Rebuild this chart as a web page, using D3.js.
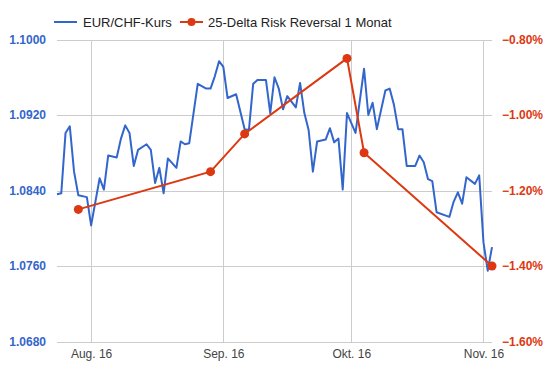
<!DOCTYPE html>
<html>
<head>
<meta charset="utf-8">
<script src="https://d3js.org/d3.v7.min.js"></script>
<style>
  body { margin: 0; background: #fff; }
  svg { font-family: Arial, "Liberation Sans", sans-serif; }
</style>
</head>
<body>
<svg id="chart" width="548" height="371"></svg>
<script>
// EUR/CHF daily rate (vertices)
var rateDates = ["2016-07-24","2016-07-25","2016-07-26","2016-07-27","2016-07-28","2016-07-29","2016-07-31",
  "2016-08-01","2016-08-03","2016-08-04","2016-08-05","2016-08-07","2016-08-08","2016-08-09","2016-08-10",
  "2016-08-11","2016-08-12","2016-08-14","2016-08-15","2016-08-16","2016-08-17","2016-08-18","2016-08-19",
  "2016-08-21","2016-08-22","2016-08-23","2016-08-24","2016-08-26","2016-08-28","2016-08-29","2016-08-30",
  "2016-08-31","2016-09-01","2016-09-02","2016-09-04","2016-09-06","2016-09-07","2016-09-08","2016-09-09",
  "2016-09-11","2016-09-12","2016-09-13","2016-09-14","2016-09-15","2016-09-16","2016-09-18","2016-09-19",
  "2016-09-20","2016-09-21","2016-09-22","2016-09-23","2016-09-25","2016-09-26","2016-09-27","2016-09-28",
  "2016-09-29","2016-09-30","2016-10-02","2016-10-04","2016-10-05","2016-10-06","2016-10-07","2016-10-09",
  "2016-10-10","2016-10-11","2016-10-12","2016-10-13","2016-10-14","2016-10-16","2016-10-17","2016-10-18",
  "2016-10-19","2016-10-20","2016-10-21","2016-10-24","2016-10-25","2016-10-26","2016-10-27","2016-10-28",
  "2016-10-30","2016-10-31","2016-11-01","2016-11-02","2016-11-03"];
var rateValues = [1.0836,1.0837,1.0901,1.0908,1.0860,1.0835,1.0833,
  1.0803,1.0853,1.0841,1.0877,1.0875,1.0895,1.0909,1.0901,
  1.0866,1.0883,1.0889,1.0883,1.0848,1.0864,1.0837,1.0874,
  1.0864,1.0892,1.0889,1.0890,1.0953,1.0948,1.0948,1.0961,
  1.0977,1.0971,1.0938,1.0942,1.0905,1.0904,1.0953,1.0957,
  1.0957,1.0922,1.0960,1.0948,1.0926,1.0940,1.0928,1.0954,
  1.0922,1.0904,1.0860,1.0892,1.0894,1.0906,1.0891,1.0895,
  1.0841,1.0922,1.0901,1.0969,1.0920,1.0933,1.0905,1.0946,
  1.0948,1.0931,1.0905,1.0905,1.0866,1.0866,1.0877,1.0870,
  1.0852,1.0850,1.0817,1.0812,1.0828,1.0838,1.0826,1.0854,
  1.0847,1.0856,1.0785,1.0755,1.0780];

// 25-delta risk reversal, 1 month (%)
var rrDates = ["2016-07-29","2016-08-29","2016-09-06","2016-09-30","2016-10-04","2016-11-03"];
var rrValues = [-1.25,-1.15,-1.05,-0.85,-1.10,-1.40];

var leftTicks = [1.068, 1.076, 1.084, 1.092, 1.100];
var rightTicks = [-1.6, -1.4, -1.2, -1.0, -0.8];
var monthTicks = ["2016-08-01","2016-09-01","2016-10-01","2016-11-01"];
var monthLabels = ["Aug. 16","Sep. 16","Okt. 16","Nov. 16"];
var seriesNames = ["EUR/CHF-Kurs", "25-Delta Risk Reversal 1 Monat"];

var blue = "#3366cc", red = "#dc3912";
var parse = d3.timeParse("%Y-%m-%d");

var svg = d3.select("#chart");
var margin = {left: 57, right: 56, top: 39.5, bottom: 29.5};
var W = 548, H = 371;

var x = d3.scaleTime()
    .domain([parse("2016-07-24"), parse("2016-11-03")])
    .range([margin.left, W - margin.right]);
var yL = d3.scaleLinear().domain([1.068, 1.100]).range([H - margin.bottom, margin.top]);
var yR = d3.scaleLinear().domain([-1.6, -0.8]).range([H - margin.bottom, margin.top]);

// horizontal grid
svg.append("g")
    .attr("transform", "translate(" + margin.left + ",0)")
    .call(d3.axisLeft(yL).tickValues(leftTicks).tickSize(-(W - margin.left - margin.right)).tickFormat(""))
    .call(function(g) { g.select(".domain").remove(); })
    .selectAll("line").attr("stroke", "#cccccc").attr("shape-rendering", "crispEdges");

// vertical grid + month labels
var xAxis = svg.append("g")
    .attr("transform", "translate(0," + (H - margin.bottom) + ")")
    .call(d3.axisBottom(x).tickValues(monthTicks.map(parse))
        .tickSize(-(H - margin.top - margin.bottom))
        .tickPadding(8)
        .tickFormat(function(d, i) { return monthLabels[i]; }));
xAxis.select(".domain").remove();
xAxis.selectAll("line").attr("stroke", "#cccccc").attr("shape-rendering", "crispEdges");
xAxis.selectAll("text").attr("fill", "#444").style("font-size", "12px").style("font-family", "Arial, 'Liberation Sans', sans-serif");

// left labels
svg.append("g").selectAll("text")
    .data(leftTicks).enter().append("text")
    .attr("x", 46).attr("y", function(d) { return yL(d); })
    .attr("dy", "0.35em").attr("text-anchor", "end")
    .attr("fill", blue).style("font-size", "12px").style("font-weight", "bold")
    .text(function(d) { return d3.format(".4f")(d); });

// right labels
svg.append("g").selectAll("text")
    .data(rightTicks).enter().append("text")
    .attr("x", 502).attr("y", function(d) { return yR(d); })
    .attr("dy", "0.35em").attr("text-anchor", "start")
    .attr("fill", red).style("font-size", "12px").style("font-weight", "bold")
    .text(function(d) { return d3.format(".2f")(d) + "%"; });

// EUR/CHF line
var rate = rateDates.map(function(d, i) { return {date: parse(d), value: rateValues[i]}; });
svg.append("path")
    .datum(rate)
    .attr("fill", "none").attr("stroke", blue).attr("stroke-width", 2)
    .attr("stroke-linejoin", "round")
    .attr("d", d3.line().x(function(d) { return x(d.date); }).y(function(d) { return yL(d.value); }));

// risk reversal line + dots
var rr = rrDates.map(function(d, i) { return {date: parse(d), value: rrValues[i]}; });
svg.append("path")
    .datum(rr)
    .attr("fill", "none").attr("stroke", red).attr("stroke-width", 2)
    .attr("d", d3.line().x(function(d) { return x(d.date); }).y(function(d) { return yR(d.value); }));
svg.append("g").selectAll("circle")
    .data(rr).enter().append("circle")
    .attr("cx", function(d) { return x(d.date); })
    .attr("cy", function(d) { return yR(d.value); })
    .attr("r", 4.5).attr("fill", red);

// legend
var lg = svg.append("g").attr("transform", "translate(0,22)");
lg.append("line").attr("x1", 54).attr("x2", 77).attr("y1", 0).attr("y2", 0)
    .attr("stroke", blue).attr("stroke-width", 2);
lg.append("text").attr("x", 83).attr("y", 0).attr("dy", "0.35em")
    .attr("fill", "#222").style("font-size", "13px").text(seriesNames[0]);
lg.append("line").attr("x1", 180).attr("x2", 203).attr("y1", 0).attr("y2", 0)
    .attr("stroke", red).attr("stroke-width", 2);
lg.append("circle").attr("cx", 191.5).attr("cy", 0).attr("r", 4).attr("fill", red);
lg.append("text").attr("x", 208).attr("y", 0).attr("dy", "0.35em")
    .attr("fill", "#222").style("font-size", "13px").text(seriesNames[1]);
</script>
</body>
</html>
